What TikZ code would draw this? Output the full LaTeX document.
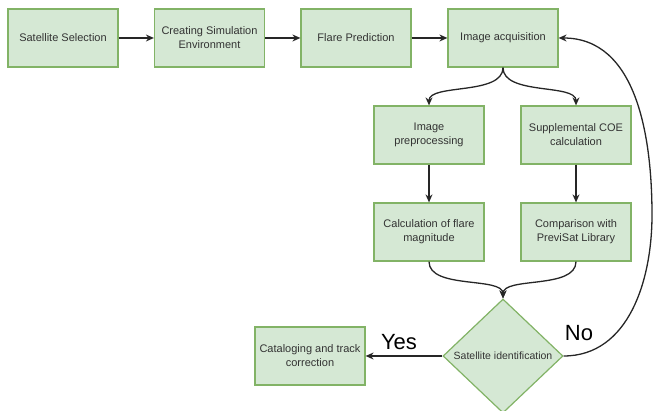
\documentclass[tikz,border=0pt]{standalone}
\usepackage{fontspec}
\setmainfont{Liberation Sans}
\usetikzlibrary{shapes.geometric, arrows.meta}
\definecolor{boxfill}{HTML}{D5E8D4}
\definecolor{boxline}{HTML}{82B366}
\definecolor{txt}{HTML}{333333}

\begin{document}
\begin{tikzpicture}[x=1pt, y=-1pt,
  procbox/.style={draw=boxline, fill=boxfill, line width=1.2pt, minimum width=110pt,
    minimum height=58pt, align=center, text=txt,
    font=\fontsize{11}{14}\selectfont},
  decision/.style={diamond, draw=boxline, fill=boxfill, line width=1.2pt, inner sep=0pt,
    minimum width=120pt, minimum height=114pt, text=txt, font=\fontsize{10.5}{14}\selectfont},
  flow/.style={line width=1.3pt, draw=black!85, -{Stealth[length=8pt,width=7pt]}},
  answer/.style={font=\fontsize{22}{26}\selectfont, text=black}]
% Picture size
\useasboundingbox (0,0) rectangle (654,411);

% Column and row positions
\def\colA{63}
\def\colB{209.5}
\def\colC{356}
\def\colD{503}
\def\colL{429}
\def\colR{576}

% Top row
\node[procbox] (sel) at (\colA,38) {Satellite Selection};
\node[procbox] (env) at (\colB,38) {Creating Simulation\\Environment};
\node[procbox] (pred) at (\colC,38) {Flare Prediction};
\node[procbox] (acq) at (\colD,38) {Image acquisition};

% Two branches
\node[procbox] (pre) at (\colL,135) {Image\\preprocessing};
\node[procbox] (coe) at (\colR,135) {Supplemental COE\\calculation};
\node[procbox] (mag) at (\colL,232) {Calculation of flare\\magnitude};
\node[procbox] (cmp) at (\colR,232) {Comparison with\\PreviSat Library};

% Decision and result
\node[decision] (ident) at (\colD,356) {Satellite identification};
\node[procbox] (cat) at (310,356) {Cataloging and track\\correction};
\coordinate (back) at (652,215);

\draw[flow] (sel) -- (env);
\draw[flow] (env) -- (pred);
\draw[flow] (pred) -- (acq);
\draw[flow] (acq.south) .. controls +(0,28) and +(0,-22) .. (pre.north);
\draw[flow] (acq.south) .. controls +(0,28) and +(0,-22) .. (coe.north);
\draw[flow] (pre) -- (mag);
\draw[flow] (coe) -- (cmp);
\draw[flow] (mag.south) .. controls +(0,28) and +(0,-22) .. (ident.north);
\draw[flow] (cmp.south) .. controls +(0,28) and +(0,-22) .. (ident.north);
\draw[flow] (ident) -- (cat);
\draw[flow] (ident.east) to[out=0, in=-90] (back) to[out=90, in=0] (acq.east);

% Answers
\node[answer] (yes) at (399,342) {Yes};
\node[answer] (no) at (579,333) {No};
\end{tikzpicture}
\end{document}
